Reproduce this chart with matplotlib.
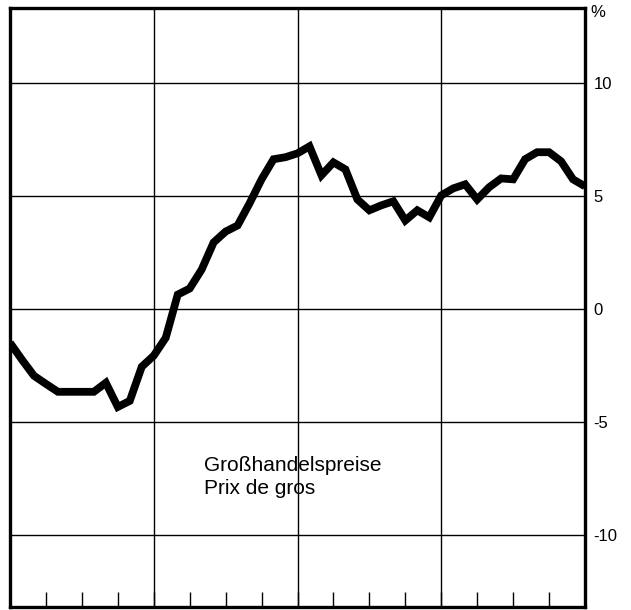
import numpy as np
import matplotlib
matplotlib.use("Agg")
import matplotlib.pyplot as plt
from matplotlib.ticker import FixedLocator, FixedFormatter, MultipleLocator

# --- DATA ---
# monthly change vs. previous year, 4 years (49 points, month 0..48)
months = np.arange(49)
wholesale_pct = [
    -1.51, -2.26, -2.97, -3.33, -3.68, -3.68, -3.68, -3.68, -3.28, -4.35,
    -4.08, -2.57, -2.08, -1.29, 0.62, 0.89, 1.73, 2.93, 3.41, 3.68,
    4.66, 5.72, 6.61, 6.70, 6.87, 7.18, 5.90, 6.47, 6.16, 4.83,
    4.35, 4.57, 4.75, 3.90, 4.35, 4.04, 5.01, 5.32, 5.50, 4.83,
    5.37, 5.76, 5.72, 6.61, 6.92, 6.92, 6.52, 5.72, 5.41,
]
ytick_vals = [-10, -5, 0, 5, 10]
ytick_labels = ["-10", "-5", "0", "5", "10"]
year_lines = [12, 24, 36]
label_de = "Großhandelspreise"
label_fr = "Prix de gros"

plt.rcParams["font.family"] = ["Liberation Sans", "DejaVu Sans"]

fig = plt.figure(figsize=(6.31, 6.10), dpi=100)
ax = fig.add_axes([10 / 631, 3 / 610, 575 / 631, 599 / 610])

ax.plot(months, wholesale_pct, color="black", linewidth=5.6,
        solid_joinstyle="miter", solid_capstyle="butt", zorder=3)

ax.set_xlim(0, 48)
ax.set_ylim(-13.2, 13.3)

# grid
for v in ytick_vals:
    ax.axhline(v, color="black", linewidth=1.0, zorder=1)
for x in year_lines:
    ax.axvline(x, color="black", linewidth=1.0, zorder=1)

# frame
for s in ax.spines.values():
    s.set_linewidth(2.4)
    s.set_color("black")

# y ticks on the right, labels only
ax.yaxis.tick_right()
ax.yaxis.set_major_locator(FixedLocator(ytick_vals))
ax.yaxis.set_major_formatter(FixedFormatter(ytick_labels))
ax.tick_params(axis="y", which="major", length=0, pad=6, labelsize=12)

# quarterly ticks on the bottom
ax.xaxis.set_major_locator(MultipleLocator(3))
ax.xaxis.set_major_formatter(FixedFormatter([]))
ax.tick_params(axis="x", which="major", direction="in", length=11,
               width=1.0, labelbottom=False)

ax.text(1.01, 0.993, "%", transform=ax.transAxes, fontsize=12,
        ha="left", va="center")

ax.text(16.2, -7.45, label_de + "\n" + label_fr, fontsize=15,
        ha="left", va="center", linespacing=1.3)

fig.savefig("out.png", dpi=100)
